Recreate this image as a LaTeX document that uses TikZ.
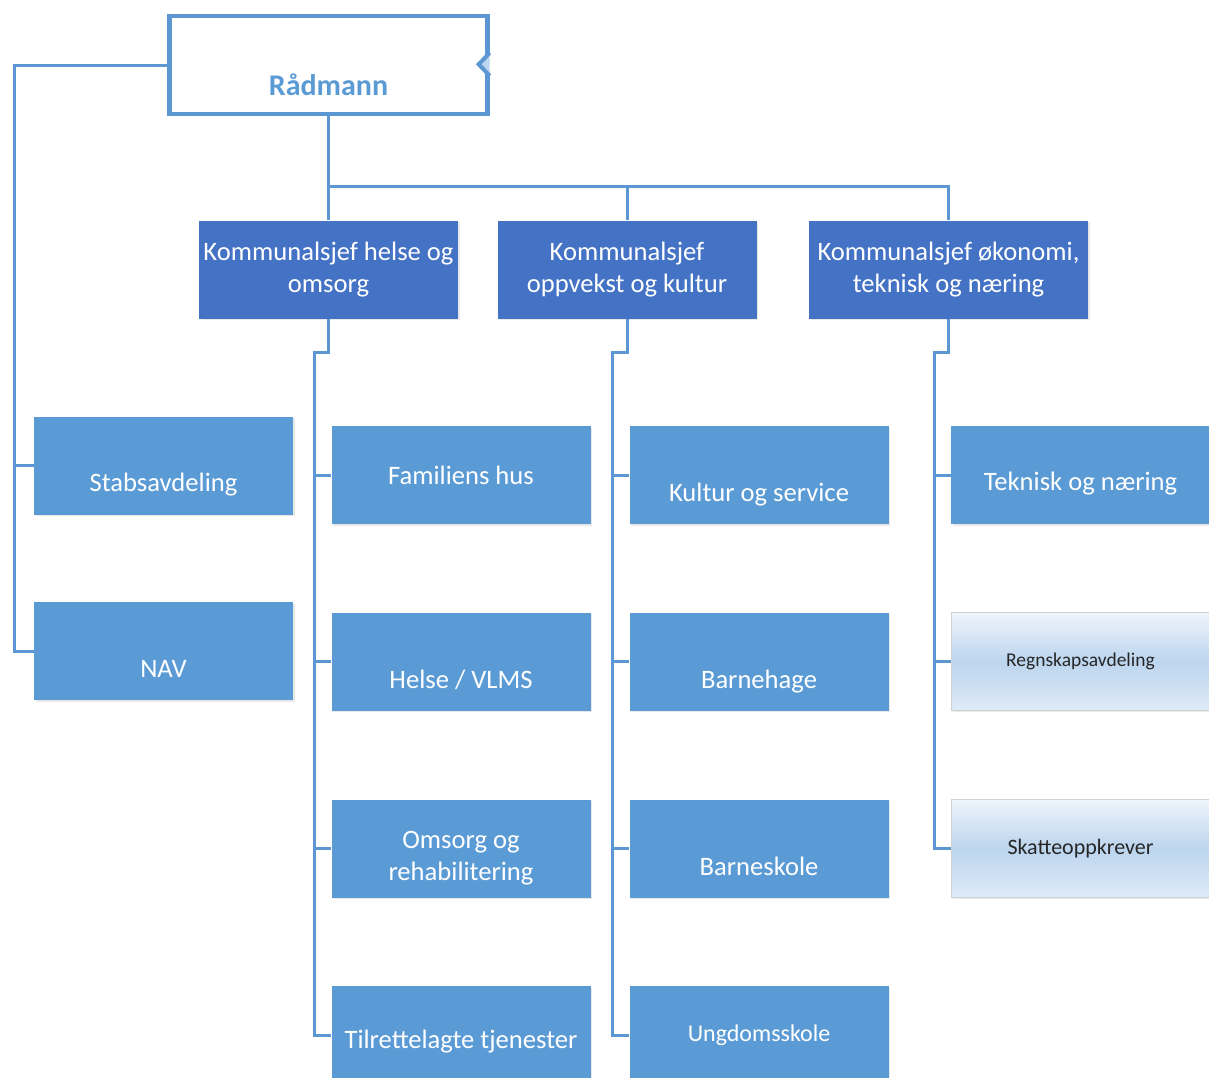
\documentclass[tikz,border=0pt]{standalone}
\usepackage{fontspec}
\setmainfont{Carlito}
\usetikzlibrary{positioning,calc,shadows}
\definecolor{orgblue}{HTML}{5B9BD5}
\definecolor{orgdark}{HTML}{4472C4}
\definecolor{orgline}{HTML}{5A97D3}
\definecolor{orgpale}{HTML}{BCD5EE}
\definecolor{orgwash}{HTML}{EDF4FB}

\begin{document}
\begin{tikzpicture}[x=0.5pt, y=-0.5pt, font=\fontsize{13.3}{16}\selectfont,
    line/.style={draw=orgline, line width=1.5pt},
    unit/.style={fill=orgblue, text=white, align=center, inner sep=2pt,
      minimum width=129.5pt, minimum height=49pt,
      drop shadow={shadow xshift=.8pt, shadow yshift=-.8pt, opacity=.18}},
    chief/.style={unit, fill=orgdark},
    pale/.style={unit, draw=black!18, line width=.4pt, text=black!85,
      top color=orgwash, bottom color=orgwash!70!orgpale, middle color=orgpale},
    sink/.style={text height=#1, text depth=2.6pt},
    low/.style={sink=29pt}]
  \clip (0,0) rectangle (1209,1077);
  \fill[white] (0,0) rectangle (1209,1077);

  % top of the chart
  \node[draw=orgline, line width=2.2pt, fill=white, minimum width=159pt, minimum height=49pt,
        text=orgblue, font=\fontsize{15}{18}\bfseries\selectfont, sink=33.5pt] (radm) at (328.5,65) {Rådmann};
  \fill[white] ($(radm.north east)+(-1.2pt,-19.5pt)$) rectangle ++(2.4pt,-11.5pt);
  \draw[draw=orgline, line width=2pt, fill=orgpale] ($(radm.north east)+(0,-19.5pt)$)
        -- ++(-5.5pt,-5.75pt) -- ++(5.5pt,-5.75pt);

  \node[chief] (k1) at (328.5,269.5) {Kommunalsjef helse og\\omsorg};
  \node[chief] (k2) at (627,269.5) {Kommunalsjef\\oppvekst og kultur};
  \node[chief, minimum width=139.5pt] (k3) at (948.5,269.5) {Kommunalsjef økonomi,\\teknisk og næring};

  % staff units
  \node[unit, low] (stab) at (163.5,465.5) {Stabsavdeling};
  \node[unit, low, below=43.5pt of stab] (nav) {NAV};

  % helse og omsorg
  \node[unit] (fam) at (461,475) {Familiens hus};
  \node[unit, low, below=44pt of fam] (hel) {Helse / VLMS};
  \node[unit, text height=34pt, below=44pt of hel] (oms) {Omsorg og\\rehabilitering};
  \node[unit, sink=16pt, below=44pt of oms] (tilr) {Tilrettelagte tjenester};

  % oppvekst og kultur
  \node[unit, low] (kult) at (759,475) {Kultur og service};
  \node[unit, low, below=44pt of kult] (bhg) {Barnehage};
  \node[unit, low, below=44pt of bhg] (bsk) {Barneskole};
  \node[unit, font=\fontsize{12}{14}\selectfont, below=44pt of bsk] (usk) {Ungdomsskole};

  % økonomi, teknisk og næring
  \node[unit, sink=18pt] (tekn) at (1080.5,475) {Teknisk og næring};
  \node[pale, font=\fontsize{9.75}{12}\selectfont, below=44pt of tekn] (regn) {Regnskapsavdeling};
  \node[pale, font=\fontsize{11}{13}\selectfont, below=44pt of regn] (skatt) {Skatteoppkrever};

  % connectors
  \coordinate (lb) at (14,65);
  \coordinate (tb) at (0,186);
  \coordinate (b1) at (314,352);
  \coordinate (b2) at (612,352);
  \coordinate (b3) at (934,352);

  \draw[line] (radm.west) -- (lb) |- (nav.west);
  \draw[line] (lb |- stab.west) -- (stab.west);
  \draw[line] (radm.south) -- (k1.north);
  \draw[line] (radm.south |- tb) -| (k3.north);
  \draw[line] (k2.north |- tb) -- (k2.north);

  \draw[line] (k1.south) |- (b1) |- (tilr.west);
  \foreach \n in {fam,hel,oms} \draw[line] (b1 |- \n.west) -- (\n.west);
  \draw[line] (k2.south) |- (b2) |- (usk.west);
  \foreach \n in {kult,bhg,bsk} \draw[line] (b2 |- \n.west) -- (\n.west);
  \draw[line] (k3.south) |- (b3) |- (skatt.west);
  \foreach \n in {tekn,regn} \draw[line] (b3 |- \n.west) -- (\n.west);
\end{tikzpicture}
\end{document}
